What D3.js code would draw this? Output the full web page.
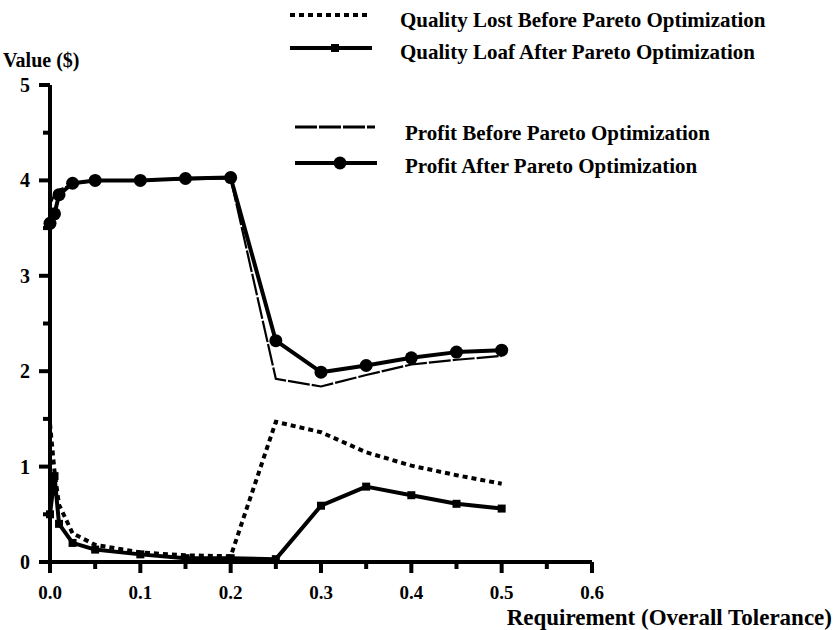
<!DOCTYPE html>
<html>
<head>
<meta charset="utf-8">
<script src="https://cdn.jsdelivr.net/npm/d3@7"></script>
<style>
  body { margin: 0; background: #fff; }
  text { font-family: "Liberation Serif", "Times New Roman", serif; font-weight: bold; fill: #000; }
</style>
</head>
<body>
<script>
var w = 837;
var h = 630;

// data
var tolerance = [0, 0.005, 0.01, 0.025, 0.05, 0.1, 0.15, 0.2, 0.25, 0.3, 0.35, 0.4, 0.45, 0.5];
var qualityBefore = [1.45, 0.95, 0.6, 0.3, 0.18, 0.1, 0.07, 0.06, 1.47, 1.36, 1.15, 1.01, 0.91, 0.82];
var qualityAfter = [0.5, 0.9, 0.4, 0.2, 0.13, 0.08, 0.04, 0.04, 0.03, 0.59, 0.79, 0.7, 0.61, 0.56];
var profitBefore = [3.75, 3.85, 3.9, 3.96, 4.0, 4.0, 4.01, 4.02, 1.92, 1.84, 1.96, 2.07, 2.12, 2.16];
var profitAfter = [3.55, 3.65, 3.85, 3.97, 4.0, 4.0, 4.02, 4.03, 2.32, 1.99, 2.06, 2.14, 2.2, 2.22];

var xTicks = [0, 0.1, 0.2, 0.3, 0.4, 0.5, 0.6];
var xMinor = [0.05, 0.15, 0.25, 0.35, 0.45, 0.55];
var yTicks = [0, 1, 2, 3, 4, 5];
var yMinor = [0.5, 1.5, 2.5, 3.5, 4.5];

var legendLabels = ["Quality Lost Before Pareto Optimization",
                    "Quality Loaf After Pareto Optimization",
                    "Profit Before Pareto Optimization",
                    "Profit After Pareto Optimization"];

var xScale = d3.scaleLinear().domain([0, 0.6]).range([50, 592]);
var yScale = d3.scaleLinear().domain([0, 5]).range([562, 85]);

var svg = d3.select("body").append("svg")
    .attr("width", w)
    .attr("height", h);

// axis lines
svg.append("line")
    .attr("x1", xScale(0) - 4).attr("x2", xScale(0.6))
    .attr("y1", yScale(0)).attr("y2", yScale(0))
    .attr("stroke", "#000").attr("stroke-width", 4);
svg.append("line")
    .attr("x1", xScale(0)).attr("x2", xScale(0))
    .attr("y1", yScale(0) + 4).attr("y2", yScale(5))
    .attr("stroke", "#000").attr("stroke-width", 4);

// ticks
svg.selectAll(".xt").data(xTicks).enter().append("line")
    .attr("x1", function(d) { return xScale(d); })
    .attr("x2", function(d) { return xScale(d); })
    .attr("y1", yScale(0)).attr("y2", yScale(0) + 11)
    .attr("stroke", "#000").attr("stroke-width", 4);
svg.selectAll(".xm").data(xMinor).enter().append("line")
    .attr("x1", function(d) { return xScale(d); })
    .attr("x2", function(d) { return xScale(d); })
    .attr("y1", yScale(0)).attr("y2", yScale(0) + 7)
    .attr("stroke", "#000").attr("stroke-width", 4);
svg.selectAll(".yt").data(yTicks).enter().append("line")
    .attr("x1", xScale(0) - 11).attr("x2", xScale(0))
    .attr("y1", function(d) { return yScale(d); })
    .attr("y2", function(d) { return yScale(d); })
    .attr("stroke", "#000").attr("stroke-width", 4);
svg.selectAll(".ym").data(yMinor).enter().append("line")
    .attr("x1", xScale(0) - 7).attr("x2", xScale(0))
    .attr("y1", function(d) { return yScale(d); })
    .attr("y2", function(d) { return yScale(d); })
    .attr("stroke", "#000").attr("stroke-width", 4);

// tick labels
svg.selectAll(".xl").data(xTicks).enter().append("text")
    .attr("x", function(d) { return xScale(d); })
    .attr("y", yScale(0) + 37)
    .attr("text-anchor", "middle").attr("font-size", "19px")
    .text(function(d) { return d3.format(".1f")(d); });
svg.selectAll(".yl").data(yTicks).enter().append("text")
    .attr("x", xScale(0) - 20)
    .attr("y", function(d) { return yScale(d) + 7; })
    .attr("text-anchor", "end").attr("font-size", "20px")
    .text(function(d) { return d; });

svg.append("text").attr("x", 3).attr("y", 67).attr("font-size", "20px").text("Value ($)");
svg.append("text").attr("x", 832).attr("y", 625).attr("text-anchor", "end")
    .attr("font-size", "23px").text("Requirement (Overall Tolerance)");

// lines
var line = d3.line()
    .x(function(d, i) { return xScale(tolerance[i]); })
    .y(function(d) { return yScale(d); });

svg.append("path").datum(profitBefore)
    .attr("d", line).attr("fill", "none").attr("stroke", "#000")
    .attr("stroke-width", 2.2).attr("stroke-dasharray", "22,2");

svg.append("path").datum(profitAfter)
    .attr("d", line).attr("fill", "none").attr("stroke", "#000")
    .attr("stroke-width", 4).attr("stroke-linejoin", "round");

svg.selectAll(".pa").data(profitAfter).enter().append("circle")
    .attr("cx", function(d, i) { return xScale(tolerance[i]); })
    .attr("cy", function(d) { return yScale(d); })
    .attr("r", 6.5).attr("fill", "#000");

svg.append("path").datum(qualityBefore)
    .attr("d", line).attr("fill", "none").attr("stroke", "#000")
    .attr("stroke-width", 4).attr("stroke-dasharray", "5,4");

svg.append("path").datum(qualityAfter)
    .attr("d", line).attr("fill", "none").attr("stroke", "#000")
    .attr("stroke-width", 4).attr("stroke-linejoin", "round");

svg.selectAll(".qa").data(qualityAfter).enter().append("rect")
    .attr("x", function(d, i) { return xScale(tolerance[i]) - 4; })
    .attr("y", function(d) { return yScale(d) - 4; })
    .attr("width", 8).attr("height", 8).attr("fill", "#000");

// legend
var legendY = [15, 48, 127, 163];
var legendX = [[290, 370], [290, 372], [295, 375], [295, 377]];
var textX = [400, 400, 405, 405];
var textY = [27, 59, 140, 173];

var lg = svg.append("g");
lg.append("line").attr("x1", legendX[0][0]).attr("x2", legendX[0][1])
    .attr("y1", legendY[0]).attr("y2", legendY[0])
    .attr("stroke", "#000").attr("stroke-width", 4).attr("stroke-dasharray", "5,4");
lg.append("line").attr("x1", legendX[1][0]).attr("x2", legendX[1][1])
    .attr("y1", legendY[1]).attr("y2", legendY[1])
    .attr("stroke", "#000").attr("stroke-width", 4);
lg.append("rect").attr("x", 331).attr("y", legendY[1] - 4).attr("width", 8).attr("height", 8);
lg.append("line").attr("x1", legendX[2][0]).attr("x2", legendX[2][1])
    .attr("y1", legendY[2]).attr("y2", legendY[2])
    .attr("stroke", "#000").attr("stroke-width", 3).attr("stroke-dasharray", "22,2");
lg.append("line").attr("x1", legendX[3][0]).attr("x2", legendX[3][1])
    .attr("y1", legendY[3]).attr("y2", legendY[3])
    .attr("stroke", "#000").attr("stroke-width", 4);
lg.append("circle").attr("cx", 340).attr("cy", legendY[3]).attr("r", 6.5);

lg.selectAll("text").data(legendLabels).enter().append("text")
    .attr("x", function(d, i) { return textX[i]; })
    .attr("y", function(d, i) { return textY[i]; })
    .attr("font-size", "21px")
    .text(function(d) { return d; });
</script>
</body>
</html>
